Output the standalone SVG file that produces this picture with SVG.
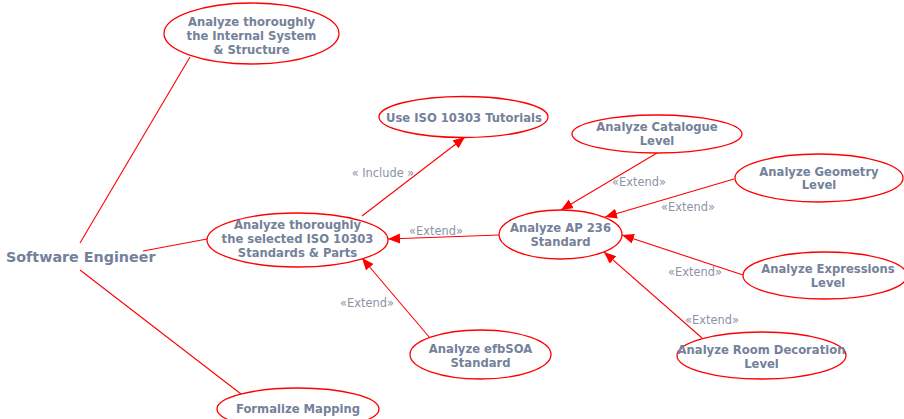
<svg xmlns="http://www.w3.org/2000/svg" width="904" height="419" viewBox="0 0 904 419">
<style>
.uc{fill:#ffffff;stroke:#ff0000;stroke-width:1.3}
.t{font-family:"DejaVu Sans",Verdana,sans-serif;font-weight:bold;font-size:11.6px;fill:#74819a;text-anchor:middle}
.actor{font-family:"DejaVu Sans",Verdana,sans-serif;font-weight:bold;font-size:14.3px;fill:#74819a}
.lbl{font-family:"DejaVu Sans",Verdana,sans-serif;font-size:11.4px;fill:#8a93a6;text-anchor:middle}
.c{stroke:#ff0000;stroke-width:1.1;fill:none}
</style>
<defs>
<marker id="arr" markerUnits="userSpaceOnUse" markerWidth="13" markerHeight="11" refX="12" refY="5" orient="auto">
<path d="M0,0 L12,5 L0,10 z" fill="#ff0000"/>
</marker>
</defs>
<rect width="904" height="419" fill="#ffffff"/>
<g id="connectors">
<line class="c" x1="80" y1="243" x2="190" y2="57"/>
<line class="c" x1="143" y1="251" x2="207" y2="239"/>
<line class="c" x1="80" y1="270" x2="241" y2="394"/>
<line class="c" x1="362" y1="216" x2="465" y2="137" marker-end="url(#arr)"/>
<line class="c" x1="499" y1="235" x2="388" y2="239" marker-end="url(#arr)"/>
<line class="c" x1="430" y1="338" x2="362" y2="258" marker-end="url(#arr)"/>
<line class="c" x1="657" y1="153" x2="561" y2="210" marker-end="url(#arr)"/>
<line class="c" x1="734" y1="179" x2="605" y2="217" marker-end="url(#arr)"/>
<line class="c" x1="743" y1="275" x2="622" y2="235" marker-end="url(#arr)"/>
<line class="c" x1="702" y1="338" x2="604" y2="252" marker-end="url(#arr)"/>
<text class="lbl" x="383" y="177">« Include »</text>
<text class="lbl" x="436" y="235">«Extend»</text>
<text class="lbl" x="367" y="307">«Extend»</text>
<text class="lbl" x="639" y="186">«Extend»</text>
<text class="lbl" x="688" y="211">«Extend»</text>
<text class="lbl" x="695" y="276">«Extend»</text>
<text class="lbl" x="712" y="324">«Extend»</text>
</g>
<g id="actor">
<text class="actor" x="6" y="262">Software Engineer</text>
</g>
<g id="uc-internal">
<ellipse class="uc" cx="251.5" cy="33.5" rx="87.5" ry="30.5"/>
<text class="t" x="251.5" y="26">Analyze thoroughly</text>
<text class="t" x="251.5" y="40">the Internal System</text>
<text class="t" x="251.5" y="54">&amp; Structure</text>
</g>
<g id="uc-selected">
<ellipse class="uc" cx="297.5" cy="240" rx="90.5" ry="27"/>
<text class="t" x="297.5" y="229">Analyze thoroughly</text>
<text class="t" x="297.5" y="243">the selected ISO 10303</text>
<text class="t" x="297.5" y="257">Standards &amp; Parts</text>
</g>
<g id="uc-tutorials">
<ellipse class="uc" cx="463.5" cy="117" rx="84.5" ry="20.5"/>
<text class="t" x="464" y="122">Use ISO 10303 Tutorials</text>
</g>
<g id="uc-catalogue">
<ellipse class="uc" cx="657" cy="134" rx="85" ry="19"/>
<text class="t" x="657" y="131">Analyze Catalogue</text>
<text class="t" x="657" y="145">Level</text>
</g>
<g id="uc-geometry">
<ellipse class="uc" cx="819" cy="178" rx="84" ry="24"/>
<text class="t" x="819" y="176">Analyze Geometry</text>
<text class="t" x="819" y="189">Level</text>
</g>
<g id="uc-ap236">
<ellipse class="uc" cx="560.5" cy="234.5" rx="61.5" ry="24.5"/>
<text class="t" x="560.5" y="232">Analyze AP 236</text>
<text class="t" x="560.5" y="246">Standard</text>
</g>
<g id="uc-expressions">
<ellipse class="uc" cx="825" cy="275.5" rx="82" ry="23.5"/>
<text class="t" x="828" y="273">Analyze Expressions</text>
<text class="t" x="828" y="287">Level</text>
</g>
<g id="uc-efbsoa">
<ellipse class="uc" cx="480.5" cy="354.5" rx="70.5" ry="24.5"/>
<text class="t" x="480.5" y="353">Analyze efbSOA</text>
<text class="t" x="480.5" y="367">Standard</text>
</g>
<g id="uc-room">
<ellipse class="uc" cx="761.5" cy="355.5" rx="84.5" ry="23.5"/>
<text class="t" x="761.5" y="354">Analyze Room Decoration</text>
<text class="t" x="761.5" y="368">Level</text>
</g>
<g id="uc-formalize">
<ellipse class="uc" cx="298" cy="409" rx="81" ry="21"/>
<text class="t" x="298" y="413">Formalize Mapping</text>
</g>
</svg>
